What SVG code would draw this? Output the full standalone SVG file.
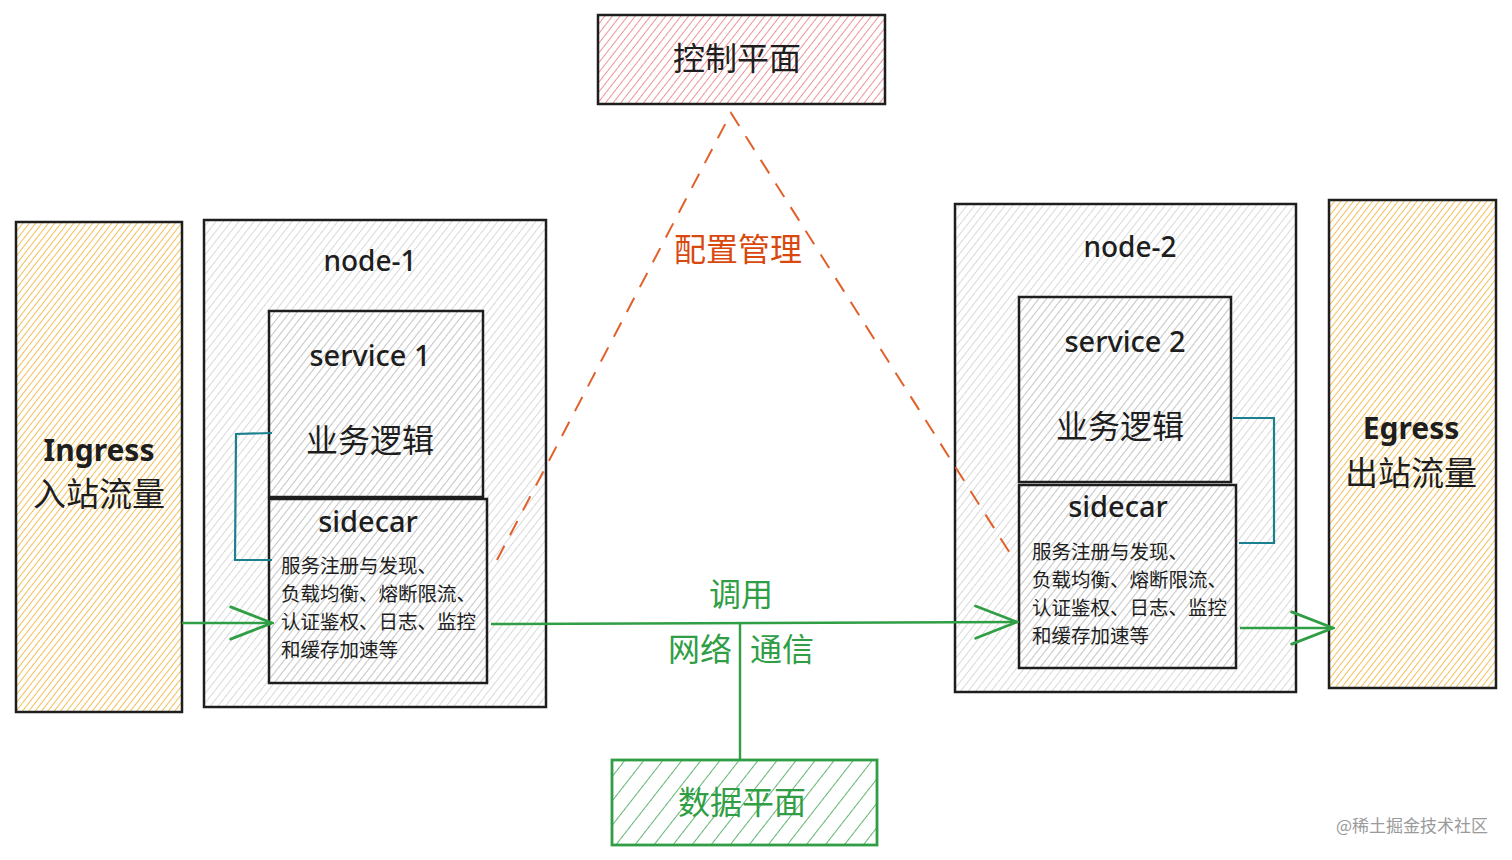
<svg xmlns="http://www.w3.org/2000/svg" width="1512" height="860" viewBox="0 0 1512 860">
<defs>
<pattern id="hGray" width="6" height="6" patternUnits="userSpaceOnUse" patternTransform="rotate(38)"><line x1="0" y1="0" x2="0" y2="6" stroke="#c4c4c4" stroke-width="1.3"/></pattern>
<pattern id="hYellow" width="5" height="5" patternUnits="userSpaceOnUse" patternTransform="rotate(38)"><line x1="0" y1="0" x2="0" y2="5" stroke="#f0b02e" stroke-width="1.6"/></pattern>
<pattern id="hRed" width="6" height="6" patternUnits="userSpaceOnUse" patternTransform="rotate(38)"><line x1="0" y1="0" x2="0" y2="6" stroke="#ea7882" stroke-width="1.6"/></pattern>
<pattern id="hGreen" width="15" height="15" patternUnits="userSpaceOnUse" patternTransform="rotate(38)"><line x1="0" y1="0" x2="0" y2="15" stroke="#3aa350" stroke-width="1.6"/></pattern>
<marker id="arr" viewBox="0 0 20 20" refX="19" refY="10" markerWidth="46" markerHeight="46" markerUnits="userSpaceOnUse" orient="auto"><path d="M1,3 L19,10 L1,17" fill="none" stroke="#2f9e44" stroke-width="1.2" stroke-linecap="round"/></marker>
<style>
.box{stroke:#1e1e1e;stroke-width:2.5;}
.t{font-family:"Noto Sans","Noto Sans CJK SC",sans-serif;fill:#1e1e1e;text-anchor:middle;}
.sm{font-family:"Noto Sans CJK SC","Noto Sans",sans-serif;fill:#1e1e1e;font-size:19.5px;}
.g{fill:#2f9e44;}
.green{stroke:#2f9e44;stroke-width:2.4;fill:none;}
.teal{stroke:#1a7f8e;stroke-width:2.2;fill:none;}
</style>
</defs>
<rect width="1512" height="860" fill="#ffffff"/>

<g id="control-plane">
<rect x="598" y="15" width="287" height="89" fill="url(#hRed)" class="box"/>
<text x="737" y="70" class="t" font-size="32">控制平面</text>
</g>

<g id="ingress">
<rect x="16" y="222" width="166" height="490" fill="url(#hYellow)" class="box"/>
<text x="99" y="461" class="t" font-size="30" font-weight="bold">Ingress</text>
<text x="99" y="506" class="t" font-size="33">入站流量</text>
</g>

<g id="node-1">
<rect x="204" y="220" width="342" height="487" fill="url(#hGray)" class="box"/>
<text x="370" y="271" class="t" font-size="28" font-weight="500">node-1</text>
</g>

<g id="service-1">
<rect x="269" y="311" width="214" height="186" fill="url(#hGray)" class="box"/>
<text x="370" y="366" class="t" font-size="29" font-weight="500">service 1</text>
<text x="370" y="452" class="t" font-size="32">业务逻辑</text>
</g>

<g id="sidecar-1">
<rect x="269" y="499" width="218" height="184" fill="url(#hGray)" class="box"/>
<text x="368" y="532" class="t" font-size="29" font-weight="500">sidecar</text>
<text class="sm"><tspan x="281" y="573">服务注册与发现、</tspan><tspan x="281" y="601">负载均衡、熔断限流、</tspan><tspan x="281" y="629">认证鉴权、日志、监控</tspan><tspan x="281" y="657">和缓存加速等</tspan></text>
</g>

<g id="node-2">
<rect x="955" y="204" width="341" height="488" fill="url(#hGray)" class="box"/>
<text x="1130" y="257" class="t" font-size="28" font-weight="500">node-2</text>
</g>

<g id="service-2">
<rect x="1019" y="297" width="212" height="185" fill="url(#hGray)" class="box"/>
<text x="1125" y="352" class="t" font-size="29" font-weight="500">service 2</text>
<text x="1120" y="438" class="t" font-size="32">业务逻辑</text>
</g>

<g id="sidecar-2">
<rect x="1019" y="485" width="217" height="183" fill="url(#hGray)" class="box"/>
<text x="1118" y="517" class="t" font-size="29" font-weight="500">sidecar</text>
<text class="sm"><tspan x="1032" y="559">服务注册与发现、</tspan><tspan x="1032" y="587">负载均衡、熔断限流、</tspan><tspan x="1032" y="615">认证鉴权、日志、监控</tspan><tspan x="1032" y="643">和缓存加速等</tspan></text>
</g>

<g id="egress">
<rect x="1329" y="200" width="167" height="488" fill="url(#hYellow)" class="box"/>
<text x="1411" y="439" class="t" font-size="30" font-weight="bold">Egress</text>
<text x="1411" y="485" class="t" font-size="33">出站流量</text>
</g>

<g id="data-plane">
<rect x="612" y="760" width="265" height="85" fill="url(#hGreen)" stroke="#2f9e44" stroke-width="2.8"/>
<text x="742" y="814" class="t g" font-size="32">数据平面</text>
</g>

<g id="connectors">
<polyline points="272,433 236,434 235,560 272,560" class="teal"/>
<polyline points="1233,418 1274,418 1274,543 1239,543" class="teal"/>
<path d="M497,560 L731,113 L1013,558" fill="none" stroke="#e0612a" stroke-width="2" stroke-dasharray="16,12"/>
<line x1="182" y1="623" x2="272" y2="623" class="green" marker-end="url(#arr)"/>
<line x1="491" y1="624" x2="1017" y2="622" class="green" marker-end="url(#arr)"/>
<line x1="740" y1="624" x2="740" y2="760" class="green"/>
<line x1="1240" y1="628" x2="1333" y2="628" class="green" marker-end="url(#arr)"/>
<text x="738" y="261" class="t" font-size="32" style="fill:#d9480f">配置管理</text>
<text x="741" y="606" class="t g" font-size="32">调用</text>
<text x="700" y="661" class="t g" font-size="32">网络</text>
<text x="782" y="661" class="t g" font-size="32">通信</text>
</g>

<text x="1488" y="832" font-family="Noto Sans CJK SC,sans-serif" font-size="17" fill="#9a9a9a" text-anchor="end">@稀土掘金技术社区</text>
</svg>
